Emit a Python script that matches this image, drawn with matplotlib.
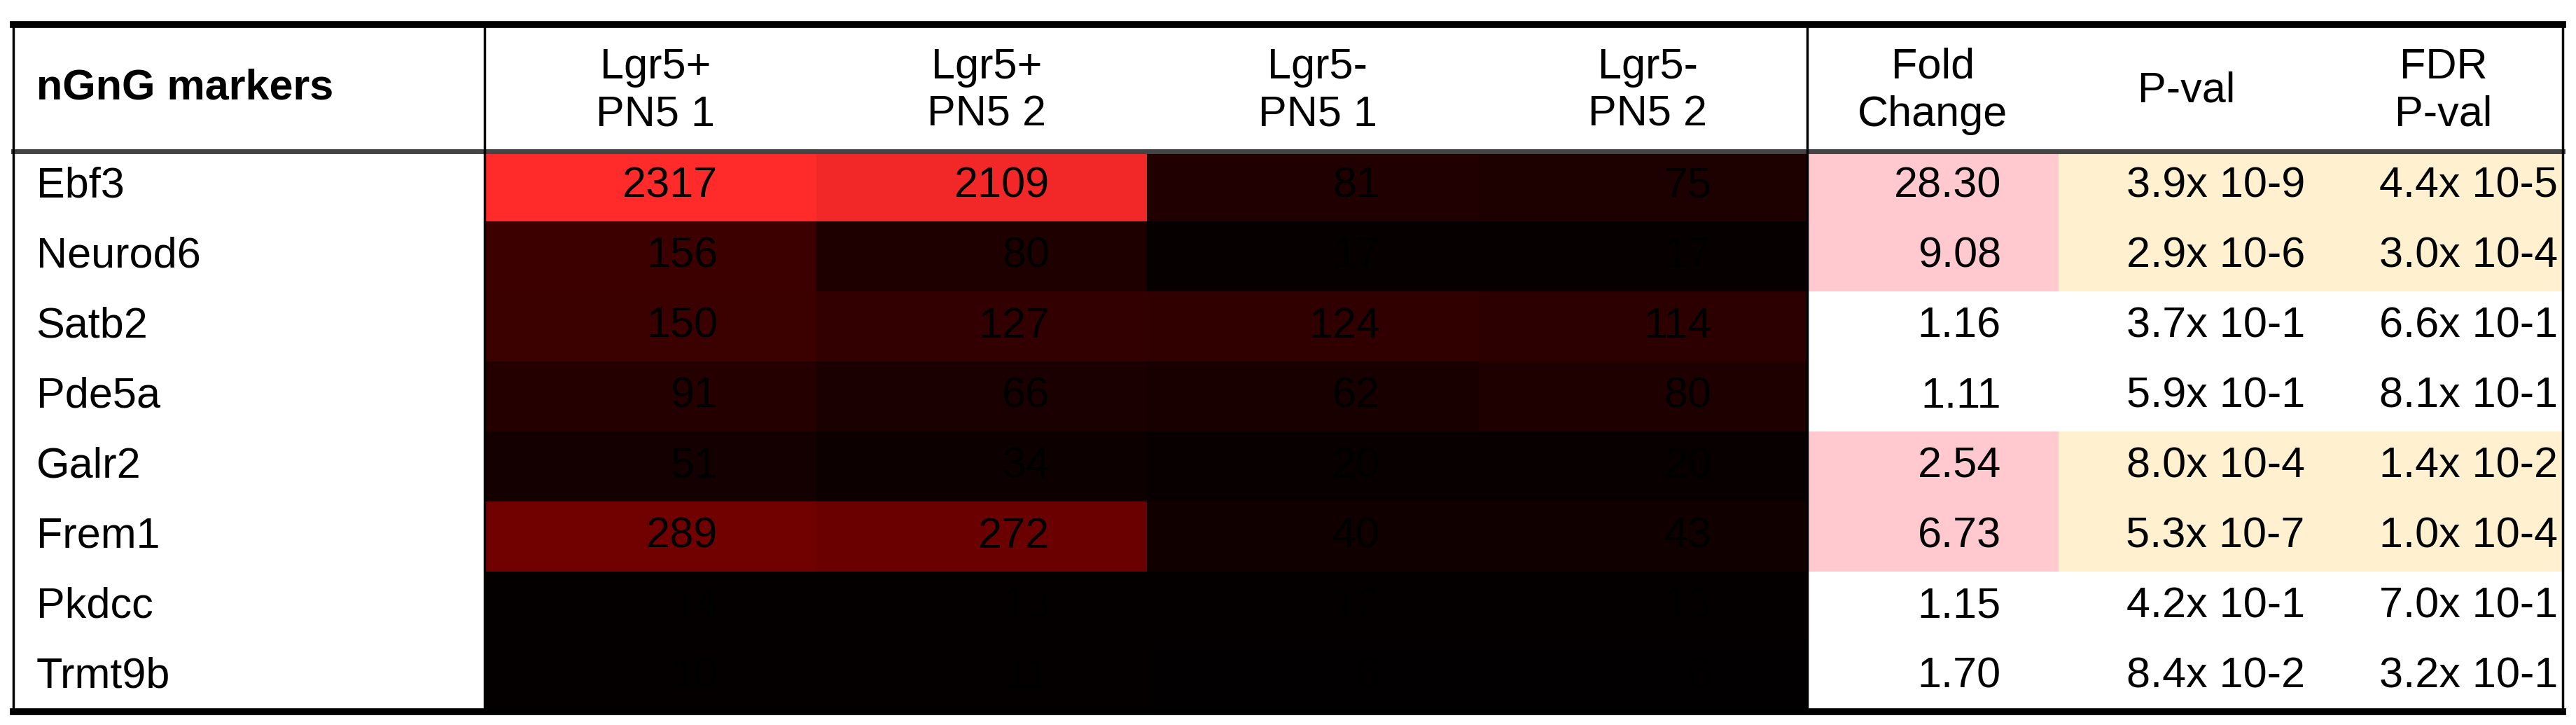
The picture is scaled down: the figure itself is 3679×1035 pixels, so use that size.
import matplotlib.pyplot as plt
import numpy as np
from matplotlib.patches import Rectangle

plt.rcParams['font.family'] = ['Liberation Sans', 'DejaVu Sans']

genes = ["Ebf3", "Neurod6", "Satb2", "Pde5a", "Galr2", "Frem1", "Pkdcc", "Trmt9b"]
samples = ["Lgr5+\nPN5 1", "Lgr5+\nPN5 2", "Lgr5-\nPN5 1", "Lgr5-\nPN5 2"]
counts = [
    [2317, 2109, 81, 75],
    [156, 80, 17, 17],
    [150, 127, 124, 114],
    [91, 66, 62, 80],
    [51, 34, 20, 20],
    [289, 272, 40, 43],
    [14, 13, 12, 13],
    [10, 11, 6, 6],
]
fold_change = ["28.30", "9.08", "1.16", "1.11", "2.54", "6.73", "1.15", "1.70"]
pval = ["3.9x 10-9", "2.9x 10-6", "3.7x 10-1", "5.9x 10-1", "8.0x 10-4", "5.3x 10-7", "4.2x 10-1", "8.4x 10-2"]
fdr = ["4.4x 10-5", "3.0x 10-4", "6.6x 10-1", "8.1x 10-1", "1.4x 10-2", "1.0x 10-4", "7.0x 10-1", "3.2x 10-1"]
significant = [True, True, False, False, True, True, False, False]


def heat_color(v):
    # black -> dark red up to ~300, then brighter red toward the max
    if v <= 300:
        t = v / 300.0
        return (0.46 * t, 0, 0)
    t = min((v - 300) / 2000.0, 1)
    return (0.46 + 0.54 * t, 0.17 * t, 0.17 * t)


fig = plt.figure(figsize=(36.79, 10.35), dpi=100)
ax = fig.add_axes([0, 0, 1, 1])
ax.set_xlim(0, 1568)
ax.set_ylim(441, 0)
ax.axis("off")

top, head_bot, bottom = 15, 92, 433
left, right = 8, 1560
name_r = 295
heat_edges = [295, 497, 698, 900, 1100]
fc_r, pv_r = 1253, 1405
row_h = (bottom - head_bot) / len(genes)
fs = 44

# header
ax.text(22, (top + head_bot) / 2, "nGnG markers", fontsize=fs, fontweight="bold", va="center")
for i, s in enumerate(samples):
    ax.text((heat_edges[i] + heat_edges[i + 1]) / 2 + 3, (top + head_bot) / 2 + 2, s,
            fontsize=fs, ha="center", va="center", linespacing=1.25)
ax.text((1100 + fc_r) / 2, (top + head_bot) / 2 + 2, "Fold\nChange", fontsize=fs,
        ha="center", va="center", linespacing=1.25)
ax.text((fc_r + pv_r) / 2 + 2, (top + head_bot) / 2 + 2, "P-val", fontsize=fs, ha="center", va="center")
ax.text((pv_r + right) / 2 + 5, (top + head_bot) / 2 + 2, "FDR\nP-val", fontsize=fs,
        ha="center", va="center", linespacing=1.25)

for r, g in enumerate(genes):
    y0 = head_bot + r * row_h
    yc = y0 + row_h / 2
    ax.text(22, yc, g, fontsize=fs, va="center")
    for c in range(4):
        x0, x1 = heat_edges[c], heat_edges[c + 1]
        ax.add_patch(Rectangle((x0, y0), x1 - x0, row_h, color=heat_color(counts[r][c]), lw=0))
        ax.text(x0 + 142, yc, str(counts[r][c]), fontsize=fs, ha="right", va="center", color="black")
    if significant[r]:
        ax.add_patch(Rectangle((1100, y0), fc_r - 1100, row_h, color="#ffc9cf", lw=0))
        ax.add_patch(Rectangle((fc_r, y0), right - fc_r, row_h, color="#fff1cf", lw=0))
    ax.text(1218, yc, fold_change[r], fontsize=fs, ha="right", va="center")
    ax.text(1403, yc, pval[r], fontsize=fs, ha="right", va="center")
    ax.text(1557, yc, fdr[r], fontsize=fs, ha="right", va="center")

# grid lines
ax.plot([left, right], [top, top], color="black", lw=7)
ax.plot([left, right], [bottom, bottom], color="black", lw=7)
ax.plot([left, right], [head_bot, head_bot], color="#444444", lw=5)
for x in [left, name_r, 1100, right]:
    ax.plot([x, x], [top, bottom], color="black", lw=2.5)

fig.savefig("out.png", dpi=100)
